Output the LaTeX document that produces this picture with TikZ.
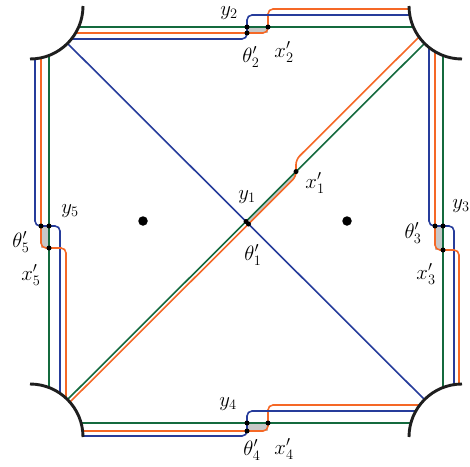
\documentclass[tikz,border=0pt]{standalone}
\begin{document}
\begin{tikzpicture}[x=1pt,y=-1pt,
  cblue/.style={draw={rgb,255:red,38;green,60;blue,155},line width=1.6pt,rounded corners=5pt},
  corange/.style={draw={rgb,255:red,245;green,104;blue,38},line width=1.6pt,rounded corners=5pt},
  cgreen/.style={draw={rgb,255:red,20;green,106;blue,62},line width=1.6pt},
  shade/.style={fill={rgb,255:red,200;green,200;blue,200}},
  pt/.style={circle,fill=black,inner sep=0pt,minimum size=5pt},
  bigpt/.style={circle,fill=black,inner sep=0pt,minimum size=9.5pt},
  lab/.style={inner sep=0pt,font=\fontsize{20.74}{25}\selectfont},
  bnd/.style={draw={rgb,255:red,30;green,30;blue,30},line width=2.9pt},
  hole/.style={fill=white}]
\useasboundingbox (0,0) rectangle (470,466);
% corners of the square
\coordinate (TL) at (30,6);
\coordinate (TR) at (462,6);
\coordinate (BL) at (30,437);
\coordinate (BR) at (462,437);
% shaded regions
\fill[shade] (247,27) rectangle (268,33);
\fill[shade] (247,423) rectangle (268,431);
\fill[shade] (41,226) rectangle (49,248);
\fill[shade] (435,226) rectangle (443,250);
\fill[shade] (246,221.5) -- (296,171.6) -- (296,176.6) -- (248.5,224) -- cycle;
% top edge
\draw[cgreen] (30,27) -- (462,27);
\draw[corange] (30,33) -- (268,33) -- (268,9) -- (462,9);
\draw[cblue] (30,39) -- (247,39) -- (247,15) -- (462,15);
% bottom edge
\draw[cgreen] (30,423) -- (462,423);
\draw[corange] (30,431) -- (268,431) -- (268,405) -- (462,405);
\draw[cblue] (30,436) -- (247,436) -- (247,411) -- (462,411);
% left edge
\draw[cgreen] (49,6) -- (49,437);
\draw[cblue] (35,6) -- (35,226) -- (60,226) -- (60,437);
\draw[corange] (41,6) -- (41,248) -- (66,248) -- (66,437);
% right edge
\draw[cgreen] (443,6) -- (443,437);
\draw[cblue] (429,6) -- (429,226) -- (454,226) -- (454,437);
\draw[corange] (435,6) -- (435,250) -- (459,250) -- (459,437);
% diagonals
\draw[cblue] (TL) -- (BR);
\draw[cgreen] (BL) -- (TR);
\draw[corange] (35,437) -- (296,176.6) -- (296,159.6) -- (450,6);
% boundary holes
\foreach \c in {TL,TR,BL,BR} \fill[hole] (\c) circle (53);
\draw[bnd] (TL) ++(53,0) arc[start angle=0,end angle=90,radius=53];
\draw[bnd] (TR) ++(0,53) arc[start angle=90,end angle=180,radius=53];
\draw[bnd] (BL) ++(0,-53) arc[start angle=270,end angle=360,radius=53];
\draw[bnd] (BR) ++(-53,0) arc[start angle=180,end angle=270,radius=53];
% marked points
\node[bigpt] (p1) at (143,221) {};
\node[bigpt] (p2) at (347,221) {};
% intersection points
\node[pt] (y2) at (247,27) {};
\node[pt] (t2) at (247,33) {};
\node[pt] (x2) at (268,27) {};
\node[pt] (y4) at (247,423) {};
\node[pt] (t4) at (247,431) {};
\node[pt] (x4) at (268,423) {};
\node[pt] (t5) at (41,226) {};
\node[pt] (y5) at (49,226) {};
\node[pt] (x5) at (49,248) {};
\node[pt] (t3) at (435,226) {};
\node[pt] (y3) at (443,226) {};
\node[pt] (x3) at (443,250) {};
\node[pt] (y1) at (246,221.5) {};
\node[pt] (t1) at (248.5,224) {};
\node[pt] (x1) at (296,171.6) {};
% labels
\node[lab] at (247,197) {$y_1$};
\node[lab] at (253,255) {$\theta'_1$};
\node[lab] at (315,183) {$x'_1$};
\node[lab] at (229,13) {$y_2$};
\node[lab] at (251,57) {$\theta'_2$};
\node[lab] at (284,52) {$x'_2$};
\node[lab] at (461,206) {$y_3$};
\node[lab] at (413,233) {$\theta'_3$};
\node[lab] at (426,274) {$x'_3$};
\node[lab] at (228,404) {$y_4$};
\node[lab] at (252,450) {$\theta'_4$};
\node[lab] at (284,449) {$x'_4$};
\node[lab] at (70,211) {$y_5$};
\node[lab] at (21,242) {$\theta'_5$};
\node[lab] at (31,275) {$x'_5$};
\end{tikzpicture}
\end{document}
